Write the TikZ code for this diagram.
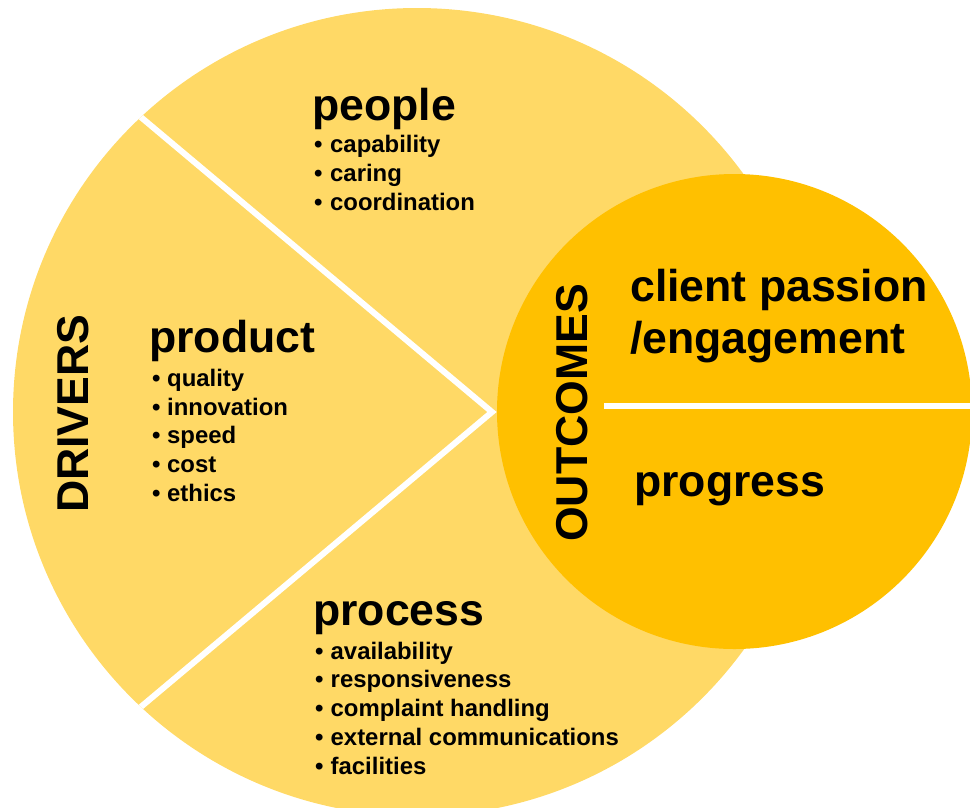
\documentclass[tikz,border=0pt]{standalone}
\usepackage{fontspec}
\setmainfont{Liberation Sans}
\definecolor{driverfill}{HTML}{FFD966}
\definecolor{outcomefill}{HTML}{FFC000}

\begin{document}
\begin{tikzpicture}[x=1pt,y=-1pt,
  heading/.style={anchor=base west, inner sep=0pt, font=\fontsize{44.6}{50}\selectfont\bfseries},
  item/.style={anchor=base west, inner sep=0pt, font=\fontsize{23.9}{29}\selectfont\bfseries},
  divider/.style={white, line width=6pt, line join=miter}]
\useasboundingbox (0,0) rectangle (970,807);

% drivers circle and its three segments
\fill[driverfill] (417,412) circle[radius=404pt];
\begin{scope}
  \clip (417,412) circle[radius=404pt];
  \draw[divider] (105,87) -- (492,412) -- (105,737);
\end{scope}

% outcomes circle, split in two
\fill[outcomefill] (734.5,411.5) circle[radius=237.5pt];
\draw[white, line width=6pt] (604,406) -- (972,406);

% side titles
\node[heading, rotate=90] (drivers) at (88,513) {DRIVERS};
\node[heading, rotate=90] (outcomes) at (587,542) {OUTCOMES};

% people
\node[heading] (people) at (312,120) {people};
\foreach \t/\b [count=\i] in {capability/152.7, caring/181.7, coordination/210.7}{
  \node[item] (peopleb\i) at (314,\b) {\textbullet};
  \node[item] (peoplei\i) at (330,\b) {\t};
}

% product
\node[heading] (product) at (149,352) {product};
\foreach \t/\b [count=\i] in {quality/386, innovation/415, speed/443.5, cost/472.5, ethics/501.5}{
  \node[item] (productb\i) at (152,\b) {\textbullet};
  \node[item] (producti\i) at (167,\b) {\t};
}

% process
\node[heading] (process) at (313,625) {process};
\foreach \t/\b [count=\i] in {availability/659, responsiveness/687.5, complaint handling/716, external communications/745, facilities/774}{
  \node[item] (processb\i) at (315,\b) {\textbullet};
  \node[item] (processi\i) at (330.5,\b) {\t};
}

% outcomes
\node[heading] (passion) at (630,301.7) {client passion};
\node[heading] (engagement) at (630,353) {/engagement};
\node[heading] (progress) at (634,496.7) {progress};
\end{tikzpicture}
\end{document}
